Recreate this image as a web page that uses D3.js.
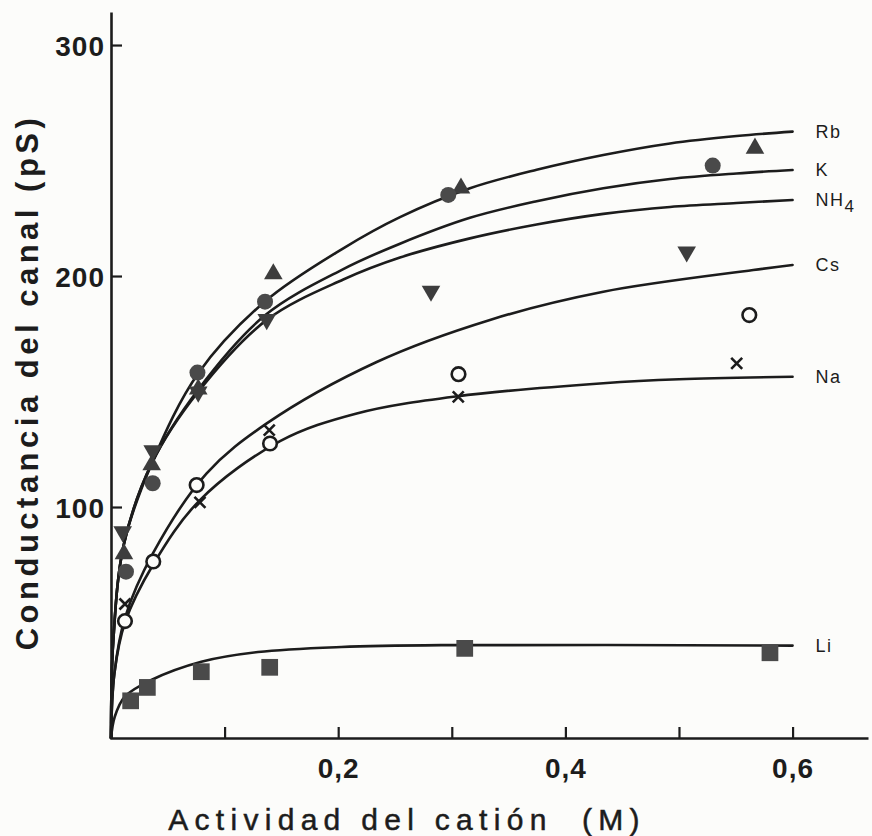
<!DOCTYPE html>
<html>
<head>
<meta charset="utf-8">
<script src="https://cdn.jsdelivr.net/npm/d3@7"></script>
<style>
  html, body { margin: 0; padding: 0; background: #fcfcfa; }
  svg { display: block; }
  text { font-family: "Liberation Sans", Arial, Helvetica, sans-serif; fill: #1c1c1c; }
</style>
</head>
<body>
<svg id="chart" width="872" height="836"></svg>
<script>
// Measured points: [activity (M), conductance (pS)]
const rbPoints  = [[0.0114, 79.7], [0.0358, 118.2], [0.0768, 151], [0.1429, 200.9], [0.3081, 238], [0.5669, 255.3]];
const kPoints   = [[0.0132, 72], [0.0367, 110.3], [0.0761, 158.2], [0.1356, 188.9], [0.2969, 235.1], [0.5297, 247.8]];
const nh4Points = [[0.0103, 89.3], [0.0367, 124.4], [0.0768, 149.8], [0.1371, 181.2], [0.2817, 193.5], [0.5068, 210.5]];
const csPoints  = [[0.0123, 50.6], [0.0372, 76.4], [0.0754, 109.5], [0.14, 127.5], [0.3059, 157.5], [0.5619, 183.1]];
const naPoints  = [[0.0123, 58], [0.0783, 102], [0.1393, 133.3], [0.3057, 147.7], [0.5508, 162.2]];
const liPoints  = [[0.0173, 16.1], [0.032, 21.9], [0.0795, 28.7], [0.1397, 30.6], [0.3114, 38.8], [0.5801, 36.9]];

// Saturation curves
const rbCurve  = [[0, 0], [0.002, 42], [0.0114, 84], [0.036, 119], [0.077, 158], [0.1356, 189], [0.2045, 212], [0.2544, 225.5], [0.316, 238], [0.3747, 246], [0.4334, 252.4], [0.4921, 257.4], [0.5508, 260.6], [0.6, 262.5]];
const kCurve   = [[0, 0], [0.002, 42], [0.0114, 84], [0.036, 119], [0.077, 151], [0.1356, 183], [0.2045, 203], [0.2544, 214], [0.316, 225.2], [0.3747, 232.4], [0.4334, 238], [0.4921, 242], [0.5508, 244.4], [0.6, 245.9]];
const nh4Curve = [[0, 0], [0.002, 42], [0.0114, 84], [0.036, 119], [0.077, 150], [0.1371, 181], [0.2045, 198.5], [0.2544, 208], [0.316, 216.3], [0.3747, 222.3], [0.4334, 226.9], [0.4921, 229.9], [0.5508, 231.6], [0.6, 232.9]];
const csCurve  = [[0, 0], [0.003, 28], [0.0123, 52], [0.037, 80], [0.0842, 114.6], [0.1371, 136.2], [0.2339, 162.8], [0.3336, 181], [0.4334, 193.2], [0.5654, 202.6], [0.6, 204.8]];
const naCurve  = [[0, 0], [0.003, 28], [0.0123, 50], [0.037, 75], [0.0783, 103], [0.1488, 128.5], [0.2163, 140.5], [0.3043, 147.9], [0.4334, 153.6], [0.5, 155.3], [0.6, 156.4]];
const liCurve  = [[0, 0], [0.0033, 9.2], [0.0121, 17.9], [0.0355, 25.1], [0.0795, 33], [0.1294, 37.2], [0.2027, 39.4], [0.2908, 40.2], [0.6, 40]];

const cationNames = ["Rb", "K", "NH4", "Cs", "Na", "Li"];
const markerKinds = ["triangleUp", "dot", "triangleDown", "ring", "cross", "square"];

const xTicks = [0.1, 0.2, 0.3, 0.4, 0.5, 0.6];
const yTicks = [100, 200, 300];

const yTitle = "Conductancia del canal (pS)";
const xTitle = "Actividad del catión  (M)";

const series = cationNames.map((name, i) => ({
  name,
  kind: markerKinds[i],
  points: [rbPoints, kPoints, nh4Points, csPoints, naPoints, liPoints][i],
  curve: [rbCurve, kCurve, nh4Curve, csCurve, naCurve, liCurve][i]
}));

const svg = d3.select("#chart");
const ink = "#1c1c1c";
const markInk = "#3d3d3d";

const x = d3.scaleLinear().domain([0, 0.6664]).range([111, 868]);
const y = d3.scaleLinear().domain([0, 314.3]).range([738, 12]);

// Axes with inward ticks
const yAxis = d3.axisLeft(y)
  .tickValues(yTicks)
  .tickSizeInner(-11)
  .tickSizeOuter(0)
  .tickPadding(6)
  .tickFormat(d3.format("d"));

const xAxis = d3.axisBottom(x)
  .tickValues(xTicks)
  .tickSizeInner(-11)
  .tickSizeOuter(0)
  .tickPadding(20)
  .tickFormat(d => (Math.round(d * 10) % 2 === 0) ? d3.format(".1f")(d).replace(".", ",") : "");

const gy = svg.append("g").attr("transform", "translate(111,0)").call(yAxis);
const gx = svg.append("g").attr("transform", "translate(0,738)").call(xAxis);

[gy, gx].forEach(g => {
  g.select(".domain").attr("stroke", ink).attr("stroke-width", 2.6);
  g.selectAll(".tick line").attr("stroke", ink).attr("stroke-width", 2.2);
  g.selectAll(".tick text")
    .attr("fill", ink)
    .style("font-size", "28px")
    .style("font-weight", "bold")
    .style("letter-spacing", "1px");
});
gy.selectAll(".tick text").attr("dy", "0.36em");
gx.selectAll(".tick text").attr("dy", "0.71em");

// Fitted curves
const line = d3.line()
  .x(d => x(d[0]))
  .y(d => y(d[1]))
  .curve(d3.curveCatmullRom.alpha(0.5));

svg.append("g")
  .selectAll("path")
  .data(series)
  .join("path")
  .attr("d", d => line(d.curve))
  .attr("fill", "none")
  .attr("stroke", ink)
  .attr("stroke-width", 2.6)
  .attr("stroke-linecap", "round");

// Markers
const tri = d3.symbol().type(d3.symbolTriangle).size(150)();
const sq = d3.symbol().type(d3.symbolSquare).size(280)();

const markers = svg.append("g");
series.forEach(s => {
  const g = markers.append("g");
  s.points.forEach(p => {
    const cx = x(p[0]), cy = y(p[1]);
    if (s.kind === "triangleUp") {
      g.append("path").attr("d", tri).attr("transform", `translate(${cx},${cy})`).attr("fill", markInk);
    } else if (s.kind === "triangleDown") {
      g.append("path").attr("d", tri).attr("transform", `translate(${cx},${cy}) rotate(180)`).attr("fill", markInk);
    } else if (s.kind === "dot") {
      g.append("circle").attr("cx", cx).attr("cy", cy).attr("r", 8).attr("fill", "#4a4a4a");
    } else if (s.kind === "ring") {
      g.append("circle").attr("cx", cx).attr("cy", cy).attr("r", 6.8)
        .attr("fill", "#fcfcfa").attr("stroke", ink).attr("stroke-width", 2.6);
    } else if (s.kind === "cross") {
      const h = 5.5;
      g.append("path")
        .attr("d", `M${cx - h},${cy - h}L${cx + h},${cy + h}M${cx + h},${cy - h}L${cx - h},${cy + h}`)
        .attr("stroke", ink).attr("stroke-width", 2.6).attr("fill", "none");
    } else if (s.kind === "square") {
      g.append("path").attr("d", sq).attr("transform", `translate(${cx},${cy})`).attr("fill", "#4a4a4a");
    }
  });
});

// Series labels at the end of each curve
const labels = svg.append("g");
series.forEach(s => {
  const last = s.curve[s.curve.length - 1];
  const t = labels.append("text")
    .attr("x", x(0.6) + 23)
    .attr("y", y(last[1]) + 6)
    .style("font-size", "18px")
    .style("letter-spacing", "1.5px");
  const m = s.name.match(/^([A-Za-z]+)(\d*)$/);
  t.append("tspan").text(m[1]);
  if (m[2]) t.append("tspan").attr("dy", 6).style("font-size", "17px").text(m[2]);
});

// Axis titles
svg.append("text")
  .attr("transform", `translate(38,${(114 + 650) / 2}) rotate(-90)`)
  .attr("text-anchor", "middle")
  .style("font-size", "31px")
  .style("font-weight", "bold")
  .style("letter-spacing", "4.5px")
  .attr("xml:space", "preserve")
  .text(yTitle);

svg.append("text")
  .attr("x", 407)
  .attr("y", 830)
  .attr("text-anchor", "middle")
  .style("font-size", "30px")
  .style("letter-spacing", "6.3px")
  .attr("stroke", ink)
  .attr("stroke-width", 0.5)
  .attr("xml:space", "preserve")
  .text(xTitle);
</script>
</body>
</html>
